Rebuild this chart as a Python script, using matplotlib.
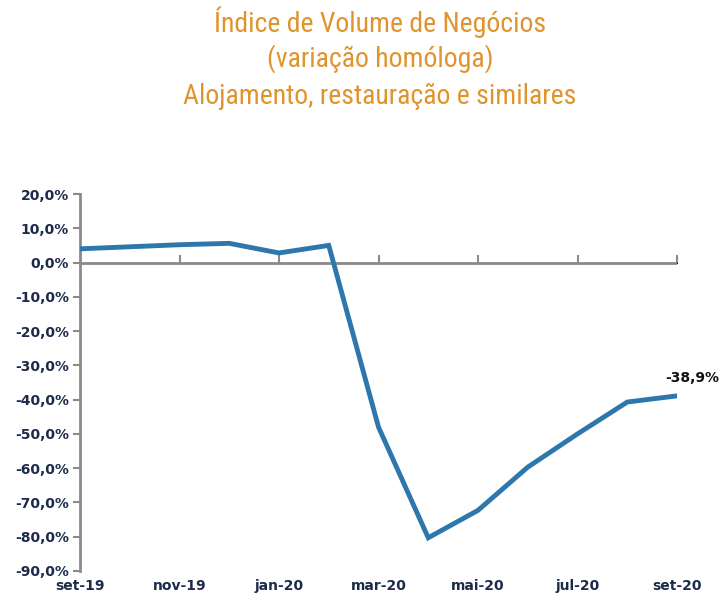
import matplotlib
matplotlib.use("Agg")
import matplotlib.pyplot as plt
from matplotlib import font_manager as fm
from matplotlib.ticker import FuncFormatter

months = ["set-19", "out-19", "nov-19", "dez-19", "jan-20", "fev-20", "mar-20",
          "abr-20", "mai-20", "jun-20", "jul-20", "ago-20", "set-20"]
values = [4.0, 4.6, 5.2, 5.6, 2.8, 5.0, -48.0, -80.3, -72.3, -59.7, -50.0, -40.7, -38.9]
title_lines = ["Índice de Volume de Negócios", "(variação homóloga)",
               "Alojamento, restauração e similares"]
last_label = "-38,9%"

names = {f.name for f in fm.fontManager.ttflist}
title_font = "DejaVu Sans"
for cand in ["Roboto Condensed", "Open Sans Condensed", "Liberation Sans Narrow", "Lato"]:
    if cand in names:
        title_font = cand
        break
tick_font = "DejaVu Sans"

fig = plt.figure(figsize=(7.23, 6.0), dpi=100)
ax = fig.add_axes([80/723, 1-571/600, (677-80)/723, (571-194)/600])

x = list(range(len(months)))
ax.plot(x, values, color="#2e77ad", lw=3.5, solid_joinstyle="miter", zorder=3)

ax.set_xlim(0, len(months)-1)
ax.set_ylim(-90, 20)
ax.set_yticks(range(-90, 21, 10))
ax.yaxis.set_major_formatter(FuncFormatter(lambda v, p: f"{v:.1f}%".replace(".", ",")))

for s in ["top", "right", "bottom"]:
    ax.spines[s].set_visible(False)
ax.spines["left"].set_color("#8a8a8a")
ax.spines["left"].set_linewidth(2)
ax.tick_params(axis="y", direction="out", length=5, width=1.5, color="#8a8a8a",
               labelsize=10, labelcolor="#1d2b4a", pad=3)

ax.set_xticks(x[::2])
ax.set_xticklabels(months[::2])
ax.tick_params(axis="x", length=0, labelsize=10, labelcolor="#1d2b4a", pad=6)

ax.axhline(0, color="#8a8a8a", lw=2, zorder=2)
zero_pos = (0 - (-90)) / (20 - (-90))
sec = ax.secondary_xaxis(zero_pos)
sec.set_xticks(x[2::2])
sec.set_xticklabels([])
sec.spines["bottom"].set_visible(False)
sec.tick_params(axis="x", direction="out", length=6, width=1.5, color="#8a8a8a")

for lab in ax.get_xticklabels() + ax.get_yticklabels():
    lab.set_fontweight("bold")
    lab.set_family(tick_font)

ax.annotate(last_label, (x[-1], values[-1]), xytext=(11, 8), textcoords="offset points",
            ha="center", va="bottom", fontsize=10, fontweight="bold", color="#111111")

for i, t in enumerate(title_lines):
    fig.text(380/723, 1-(22+37*i)/600, t, ha="center", va="center",
             fontsize=20, color="#e0942e", family=title_font)

fig.savefig("out.png", dpi=100)
